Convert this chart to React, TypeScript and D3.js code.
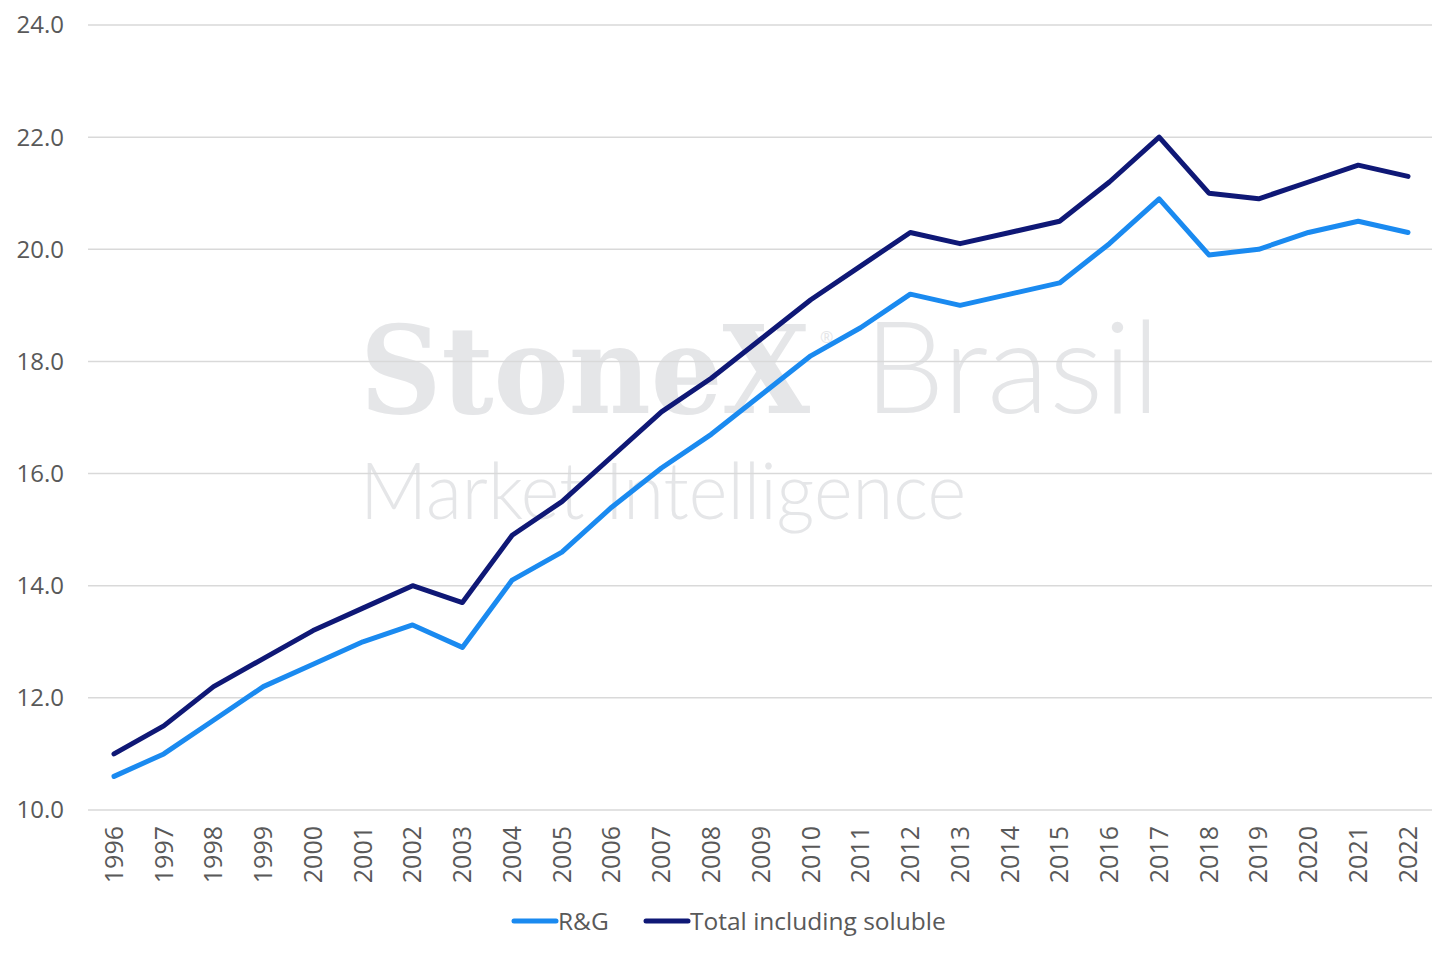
import React, { useEffect, useRef } from "react";
import * as d3 from "d3";

const years = [
  1996, 1997, 1998, 1999, 2000, 2001, 2002, 2003, 2004, 2005, 2006, 2007, 2008,
  2009, 2010, 2011, 2012, 2013, 2014, 2015, 2016, 2017, 2018, 2019, 2020, 2021, 2022,
];
const rgValues = [
  10.6, 11.0, 11.6, 12.2, 12.6, 13.0, 13.3, 12.9, 14.1, 14.6, 15.4, 16.1, 16.7,
  17.4, 18.1, 18.6, 19.2, 19.0, 19.2, 19.4, 20.1, 20.9, 19.9, 20.0, 20.3, 20.5, 20.3,
];
const totalValues = [
  11.0, 11.5, 12.2, 12.7, 13.2, 13.6, 14.0, 13.7, 14.9, 15.5, 16.3, 17.1, 17.7,
  18.4, 19.1, 19.7, 20.3, 20.1, 20.3, 20.5, 21.2, 22.0, 21.0, 20.9, 21.2, 21.5, 21.3,
];
const yTicks = [10, 12, 14, 16, 18, 20, 22, 24];
const seriesNames = ["R&G", "Total including soluble"];
const seriesColors = ["#1a8af0", "#0f1876"];

const font = "'Open Sans', 'Noto Sans', sans-serif";
const lightFont = "Lato, 'Liberation Sans', sans-serif";

const App: React.FC = () => {
  const svgRef = useRef<SVGSVGElement>(null);

  useEffect(() => {
    if (!svgRef.current) return;
    const width = 1455;
    const height = 956;
    const svg = d3.select(svgRef.current).attr("width", width).attr("height", height);
    svg.selectAll("*").remove();

    const x = d3.scalePoint<number>().domain(years).range([114, 1408]);
    const y = d3.scaleLinear().domain([10, 24]).range([810, 25]);

    // watermark
    const wm = svg.append("g").attr("fill", "#e5e6e8");
    wm.append("text")
      .attr("x", 360)
      .attr("y", 413)
      .attr("font-family", "'DejaVu Serif', 'Liberation Serif', serif")
      .attr("font-weight", "bold")
      .attr("font-size", 122)
      .attr("textLength", 450)
      .attr("lengthAdjust", "spacingAndGlyphs")
      .text("StoneX");
    wm.append("text")
      .attr("x", 820)
      .attr("y", 343)
      .attr("font-family", font)
      .attr("font-size", 16)
      .text("®");
    wm.append("text")
      .attr("x", 864)
      .attr("y", 413)
      .attr("font-family", lightFont)
      .attr("font-size", 128)
      .attr("font-weight", 300)
      .attr("textLength", 296)
      .attr("lengthAdjust", "spacingAndGlyphs")
      .text("Brasil");
    wm.append("text")
      .attr("x", 360)
      .attr("y", 519)
      .attr("font-family", lightFont)
      .attr("font-weight", 300)
      .attr("font-size", 78)
      .attr("textLength", 606)
      .attr("lengthAdjust", "spacingAndGlyphs")
      .text("Market Intelligence");

    // gridlines
    svg
      .append("g")
      .selectAll("line")
      .data(yTicks)
      .enter()
      .append("line")
      .attr("x1", 88)
      .attr("x2", 1432)
      .attr("y1", (d) => y(d))
      .attr("y2", (d) => y(d))
      .attr("stroke", "#d9d9d9")
      .attr("stroke-width", 1.5);

    // y labels
    svg
      .append("g")
      .selectAll("text")
      .data(yTicks)
      .enter()
      .append("text")
      .attr("x", 64)
      .attr("y", (d) => y(d))
      .attr("dy", "0.35em")
      .attr("text-anchor", "end")
      .attr("font-family", font)
      .attr("font-size", 24)
      .attr("fill", "#595959")
      .text((d) => d.toFixed(1));

    // x labels
    svg
      .append("g")
      .selectAll("text")
      .data(years)
      .enter()
      .append("text")
      .attr("transform", (d) => `translate(${x(d)},826) rotate(-90)`)
      .attr("dy", "0.35em")
      .attr("text-anchor", "end")
      .attr("font-family", font)
      .attr("font-size", 25)
      .attr("fill", "#595959")
      .text((d) => String(d));

    const line = d3
      .line<number>()
      .x((_, i) => x(years[i]) as number)
      .y((d) => y(d));

    [rgValues, totalValues].forEach((vals, i) => {
      svg
        .append("path")
        .datum(vals)
        .attr("d", line)
        .attr("fill", "none")
        .attr("stroke", seriesColors[i])
        .attr("stroke-width", 5)
        .attr("stroke-linecap", "round")
        .attr("stroke-linejoin", "round");
    });

    // legend
    const legendX = [514, 646];
    const leg = svg.append("g");
    seriesNames.forEach((name, i) => {
      leg
        .append("line")
        .attr("x1", legendX[i])
        .attr("x2", legendX[i] + 42)
        .attr("y1", 921)
        .attr("y2", 921)
        .attr("stroke", seriesColors[i])
        .attr("stroke-width", 5)
        .attr("stroke-linecap", "round");
      leg
        .append("text")
        .attr("x", legendX[i] + 44)
        .attr("y", 921)
        .attr("dy", "0.35em")
        .attr("font-family", font)
        .attr("font-size", 24.5)
        .attr("fill", "#595959")
        .text(name);
    });
  }, []);

  return <svg ref={svgRef} style={{ position: "absolute", left: 0, top: 0 }}></svg>;
};

export default App;
